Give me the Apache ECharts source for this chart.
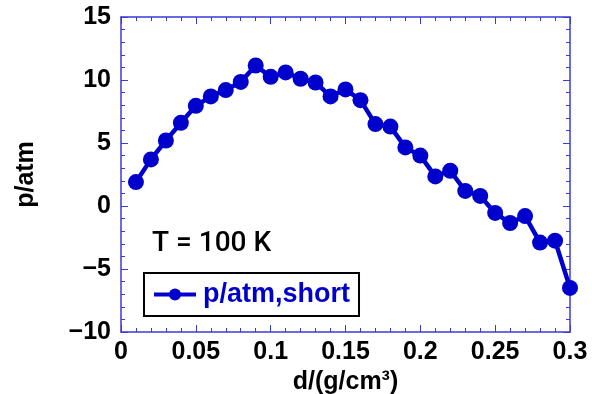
<!DOCTYPE html>
<html>
<head>
<meta charset="utf-8">
<script src="https://cdn.jsdelivr.net/npm/echarts@6/dist/echarts.min.js"></script>
<style>
  html, body { margin: 0; padding: 0; background: #fff; }
  #chart { width: 592px; height: 394px; }
</style>
</head>
<body>
<div id="chart"></div>
<script>
const densities = [0.01, 0.02, 0.03, 0.04, 0.05, 0.06, 0.07, 0.08, 0.09, 0.10,
  0.11, 0.12, 0.13, 0.14, 0.15, 0.16, 0.17, 0.18, 0.19, 0.20,
  0.21, 0.22, 0.23, 0.24, 0.25, 0.26, 0.27, 0.28, 0.29, 0.30];
const pressures = [1.9, 3.7, 5.2, 6.6, 7.95, 8.7, 9.2, 9.85, 11.15, 10.25,
  10.6, 10.1, 9.8, 8.7, 9.25, 8.4, 6.5, 6.3, 4.65, 4.0,
  2.35, 2.8, 1.2, 0.8, -0.55, -1.35, -0.8, -2.9, -2.75, -6.5];
const seriesName = 'p/atm,short';

const AXIS_BLUE = '#3b3bd6';
const LINE_BLUE = '#0000cc';
const FONT = '"Liberation Sans", Arial, sans-serif';

const chart = echarts.init(document.getElementById('chart'));

const tickLabel = { color: '#000', fontSize: 25, fontWeight: 'bold', fontFamily: FONT };

const baseX = {
  type: 'value', min: 0, max: 0.3, interval: 0.05,
  axisLine: { show: true, onZero: false, lineStyle: { color: AXIS_BLUE, width: 1.5 } },
  axisTick: { show: true, inside: true, length: 7, lineStyle: { color: AXIS_BLUE } },
  minorTick: { show: true, splitNumber: 5, length: 4, lineStyle: { color: AXIS_BLUE } },
  splitLine: { show: false }
};
const baseY = {
  type: 'value', min: -10, max: 15, interval: 5,
  axisLine: { show: true, onZero: false, lineStyle: { color: AXIS_BLUE, width: 1.5 } },
  axisTick: { show: true, inside: true, length: 7, lineStyle: { color: AXIS_BLUE } },
  minorTick: { show: true, splitNumber: 5, length: 4, lineStyle: { color: AXIS_BLUE } },
  splitLine: { show: false }
};

chart.setOption({
  animation: false,
  grid: { left: 121, right: 22, top: 17, bottom: 62, outerBoundsMode: 'none', containLabel: false },
  graphic: [{
    type: 'text', left: 152, top: 230,
    style: { text: 'T = 100 K', fill: '#000', fontSize: 28, fontWeight: 500, fontFamily: 'Roboto, ' + FONT }
  }],
  legend: {
    left: 144, top: 273,
    padding: [8, 9, 8, 8],
    borderColor: '#000', borderWidth: 2,
    itemWidth: 42, itemHeight: 15, itemGap: 4,
    lineStyle: { width: 4 },
    textStyle: { color: LINE_BLUE, fontSize: 27, fontWeight: 'bold', fontFamily: FONT, padding: [0, 0, 0, 2] },
    data: [seriesName]
  },
  xAxis: [
    Object.assign({}, baseX, {
      position: 'bottom',
      name: 'd/(g/cm³)', nameLocation: 'middle', nameGap: 33,
      nameTextStyle: { color: '#000', fontSize: 25, fontWeight: 'bold', fontFamily: FONT },
      axisLabel: Object.assign({}, tickLabel, { margin: 8, formatter: v => String(+v.toFixed(2)) })
    }),
    Object.assign({}, baseX, { position: 'top', axisLabel: { show: false } })
  ],
  yAxis: [
    Object.assign({}, baseY, {
      position: 'left',
      name: 'p/atm', nameLocation: 'middle', nameGap: 82, nameRotate: 90,
      nameTextStyle: { color: '#000', fontSize: 25, fontWeight: 'bold', fontFamily: FONT },
      axisLabel: Object.assign({}, tickLabel, { margin: 10, formatter: v => v < 0 ? '\u2212' + Math.abs(v) : String(v) })
    }),
    Object.assign({}, baseY, { position: 'right', axisLabel: { show: false } })
  ],
  series: [{
    name: seriesName,
    type: 'line',
    data: densities.map((d, i) => [d, pressures[i]]),
    symbol: 'circle', symbolSize: 16,
    lineStyle: { color: LINE_BLUE, width: 4.5 },
    itemStyle: { color: LINE_BLUE },
    clip: false
  }]
});
</script>
</body>
</html>
